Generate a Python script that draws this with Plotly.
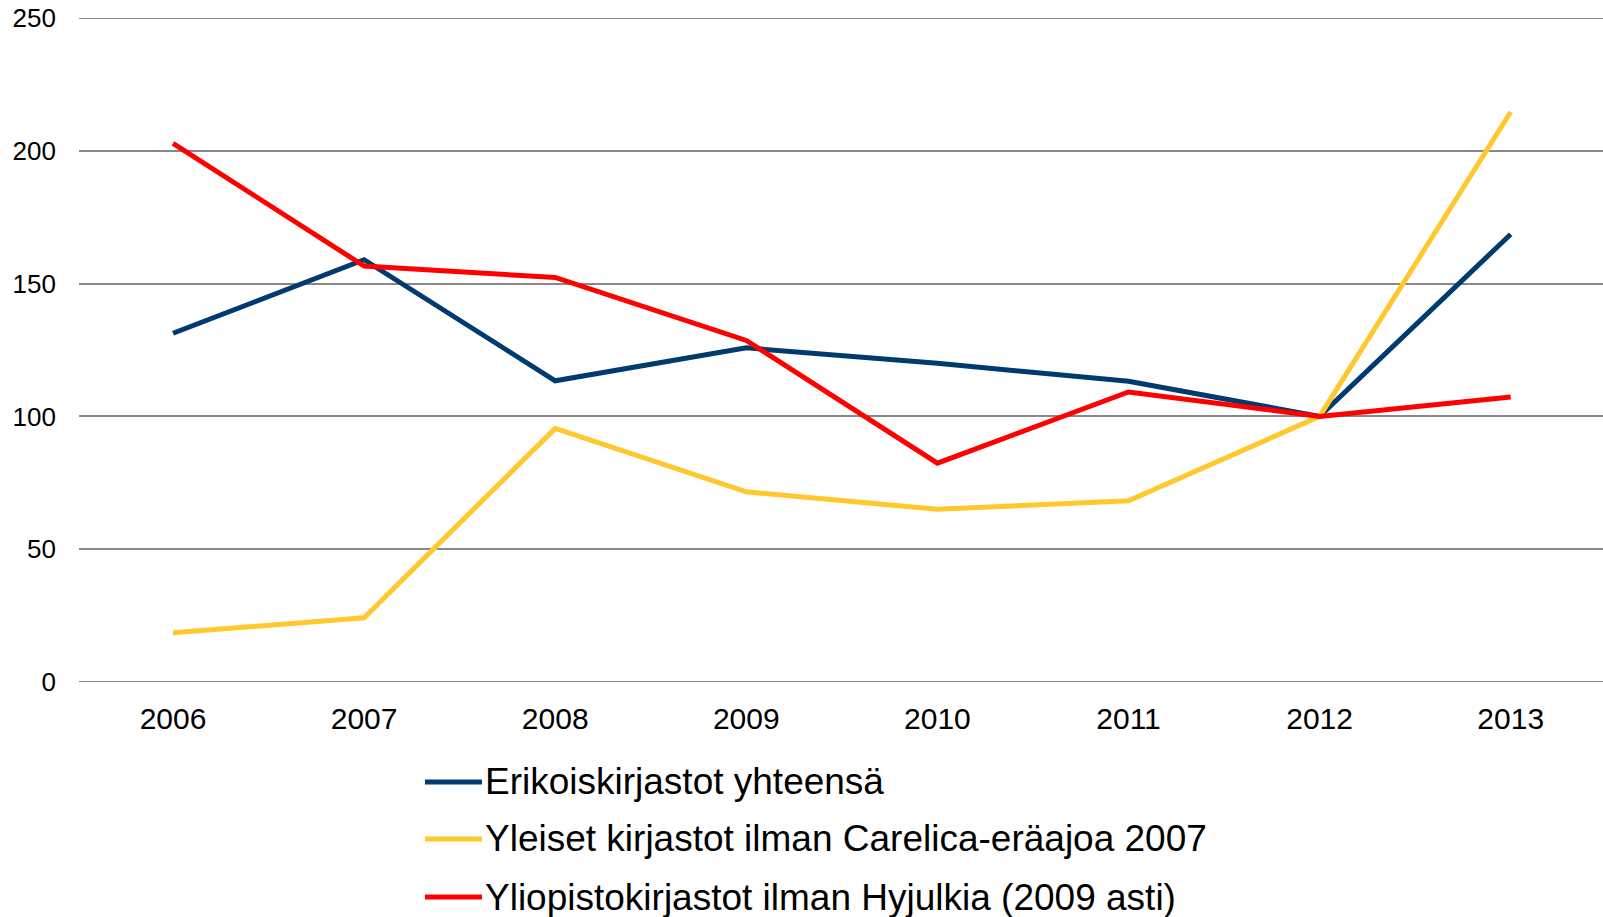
import plotly.graph_objects as go

years = ["2006", "2007", "2008", "2009", "2010", "2011", "2012", "2013"]
erikois = [131.3, 159.0, 113.4, 125.8, 120.0, 113.2, 100.0, 168.6]
yleiset = [18.5, 24.2, 95.5, 71.6, 65.0, 68.2, 100.0, 214.6]
yliopisto = [202.8, 156.6, 152.3, 128.6, 82.4, 109.2, 100.0, 107.3]

names = [
    "Erikoiskirjastot yhteensä",
    "Yleiset kirjastot ilman Carelica-eräajoa 2007",
    "Yliopistokirjastot ilman Hyjulkia (2009 asti)",
]
colors = ["#003A6E", "#FFC82E", "#FF0000"]
series = [erikois, yleiset, yliopisto]
yticks = [0, 50, 100, 150, 200, 250]

FONT = "Liberation Sans, Arial, sans-serif"

fig = go.Figure()
for name, vals, col in zip(names, series, colors):
    fig.add_trace(go.Scatter(
        x=years, y=vals, name=name, mode="lines",
        line=dict(color=col, width=5, shape="linear"),
        showlegend=False,
    ))

# legend drawn in paper coordinates (long line keys as in the original)
leg_rows = [-0.1506, -0.2364, -0.3238]
for name, col, yr in zip(names, colors, leg_rows):
    fig.add_shape(type="line", xref="paper", yref="paper",
                  x0=0.2270, x1=0.2644, y0=yr, y1=yr,
                  line=dict(color=col, width=5))
    fig.add_annotation(xref="paper", yref="paper", x=0.2650, y=yr,
                       xanchor="left", yanchor="middle", showarrow=False,
                       text=name, font=dict(size=37, family=FONT, color="black"))

fig.update_layout(
    width=1603, height=917,
    margin=dict(l=79, r=0, t=18, b=235),
    paper_bgcolor="white", plot_bgcolor="white",
    font=dict(family=FONT, color="black"),
    showlegend=False,
    xaxis=dict(
        type="category", range=[-0.492, 7.483],
        showgrid=False, zeroline=False, showline=False,
        ticks="", tickfont=dict(size=30, family=FONT),
        ticklabelstandoff=16,
    ),
    yaxis=dict(
        range=[0, 250], tickvals=yticks,
        showgrid=True, gridcolor="#888888", gridwidth=2,
        zeroline=False, showline=False, ticks="",
        tickfont=dict(size=26, family=FONT),
        ticklabelstandoff=22, ticklabeloverflow="allow",
    ),
)
for v in (yticks[0], yticks[-1]):
    fig.add_hline(y=v, line=dict(color="#888888", width=2), layer="below")

fig.write_html("out.html", config={"displayModeBar": False},
               post_script="document.body.style.margin='0px';")
